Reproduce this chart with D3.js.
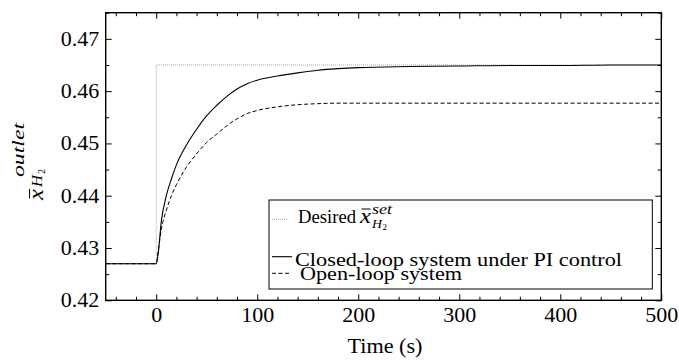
<!DOCTYPE html>
<html>
<head>
<meta charset="utf-8">
<script src="https://cdn.jsdelivr.net/npm/d3@7/dist/d3.min.js"></script>
<style>
  html, body { margin: 0; padding: 0; background: #fff; }
  svg { display: block; }
  svg text { font-family: "Liberation Serif", "DejaVu Serif", "Liberation Sans", Arimo, sans-serif !important; fill: #000; }
</style>
</head>
<body>
<svg id="chart" width="679" height="361"></svg>
<script>
// ---- data ----
const timeS = [-50, 0, 2, 5, 10, 15, 20, 30, 40, 50, 60, 70, 80, 90, 100, 120, 140, 160, 180, 200, 250, 300, 350, 400, 450, 500];
const closedLoop = [0.427, 0.427, 0.4290, 0.4350, 0.4400, 0.4432, 0.4459, 0.4497, 0.4527, 0.4553, 0.4573, 0.4590, 0.4604, 0.4614, 0.4621, 0.4629, 0.4635, 0.4640, 0.4643, 0.4645, 0.4647, 0.4648, 0.4649, 0.4649, 0.4650, 0.4650];
const openLoop = [0.427, 0.427, 0.4295, 0.4335, 0.4372, 0.4400, 0.4421, 0.4455, 0.4480, 0.4502, 0.4518, 0.4534, 0.4547, 0.4557, 0.4563, 0.4570, 0.4574, 0.4576, 0.4577, 0.4577, 0.4577, 0.4577, 0.4577, 0.4577, 0.4577, 0.4577];
const desiredTime = [-50, 0, 0, 500];
const desiredValue = [0.427, 0.427, 0.465, 0.465];
const xMajorTicks = [0, 100, 200, 300, 400, 500];
const xMinorTicks = [-40, -20, 20, 40, 60, 80, 120, 140, 160, 180, 220, 240, 260, 280, 320, 340, 360, 380, 420, 440, 460, 480];
const yMajorTicks = [0.42, 0.43, 0.44, 0.45, 0.46, 0.47];
const yMinorTicks = [0.425, 0.435, 0.445, 0.455, 0.465, 0.475];
const xLabel = "Time (s)";
const legendLabels = ["Desired", "Closed-loop system under PI control", "Open-loop system"];

// ---- layout ----
const svg = d3.select("#chart");
const L = 105.7, R = 661.3, T = 12.7, B = 300.3;
const FS = 20;
const LFS = 19;
const x = d3.scaleLinear().domain([-50, 500]).range([L, R]);
const y = d3.scaleLinear().domain([0.42, 0.475]).range([B, T]);

// curves
const line = d3.line().x(d => x(d[0])).y(d => y(d[1])).curve(d3.curveMonotoneX);
const lineLin = d3.line().x(d => x(d[0])).y(d => y(d[1]));

svg.append("path").datum(desiredTime.map((t, i) => [t, desiredValue[i]]))
  .attr("d", lineLin).attr("fill", "none").attr("stroke", "#a8a8a8")
  .attr("stroke-width", 1).attr("stroke-dasharray", "1,1");
svg.append("path").datum(timeS.map((t, i) => [t, openLoop[i]]))
  .attr("d", line).attr("fill", "none").attr("stroke", "#000")
  .attr("stroke-width", 1).attr("stroke-dasharray", "4,2.5");
svg.append("path").datum(timeS.map((t, i) => [t, closedLoop[i]]))
  .attr("d", line).attr("fill", "none").attr("stroke", "#000")
  .attr("stroke-width", 1.1);

// axes
function styleAxis(g) {
  g.select(".domain").remove();
  g.attr("font-family", null);
  g.selectAll(".tick line").attr("stroke", "#000").attr("stroke-width", 1);
  g.selectAll(".tick text").style("font-size", FS + "px")
    .attr("textLength", function () { return this.textContent.length ? this.textContent.replace(".", "").length * 11 + (this.textContent.includes(".") ? 5.5 : 0) : null; })
    .attr("lengthAdjust", "spacingAndGlyphs");
}
const fmtY = d3.format(".2f");
svg.append("g").attr("transform", `translate(0,${B})`)
  .call(d3.axisBottom(x).tickValues(xMajorTicks).tickSize(-6).tickPadding(8).tickFormat(d3.format("d")))
  .call(styleAxis);
svg.append("g").attr("transform", `translate(0,${B})`)
  .call(d3.axisBottom(x).tickValues(xMinorTicks).tickSize(-3.5).tickFormat(""))
  .call(styleAxis);
svg.append("g").attr("transform", `translate(0,${T})`)
  .call(d3.axisTop(x).tickValues(xMajorTicks).tickSize(-6).tickFormat(""))
  .call(styleAxis);
svg.append("g").attr("transform", `translate(0,${T})`)
  .call(d3.axisTop(x).tickValues(xMinorTicks).tickSize(-3.5).tickFormat(""))
  .call(styleAxis);
svg.append("g").attr("transform", `translate(${L},0)`)
  .call(d3.axisLeft(y).tickValues(yMajorTicks).tickSize(-6).tickPadding(6.4).tickFormat(fmtY))
  .call(styleAxis);
svg.append("g").attr("transform", `translate(${L},0)`)
  .call(d3.axisLeft(y).tickValues(yMinorTicks).tickSize(-3.5).tickFormat(""))
  .call(styleAxis);
svg.append("g").attr("transform", `translate(${R},0)`)
  .call(d3.axisRight(y).tickValues(yMajorTicks).tickSize(-6).tickFormat(""))
  .call(styleAxis);
svg.append("g").attr("transform", `translate(${R},0)`)
  .call(d3.axisRight(y).tickValues(yMinorTicks).tickSize(-3.5).tickFormat(""))
  .call(styleAxis);

// frame
svg.append("rect").attr("x", L).attr("y", T).attr("width", R - L).attr("height", B - T)
  .attr("fill", "none").attr("stroke", "#000").attr("stroke-width", 1.4);

// x label
svg.append("text").attr("x", 385).attr("y", 353).attr("text-anchor", "middle")
  .style("font-size", FS + "px").attr("textLength", 75).attr("lengthAdjust", "spacingAndGlyphs").text(xLabel);

// y label: x̄^{outlet}_{H2}
const yl = svg.append("g").attr("transform", "translate(43,200) rotate(-90)");
yl.append("text").attr("x", 0).attr("y", 0).style("font-size", "20px").style("font-style", "italic")
  .attr("textLength", 11).attr("lengthAdjust", "spacingAndGlyphs").text("x");
yl.append("line").attr("x1", 1.5).attr("x2", 11).attr("y1", -13.5).attr("y2", -13.5).attr("stroke", "#000").attr("stroke-width", 1);
yl.append("text").attr("x", 23).attr("y", -19).style("font-size", "17px").style("font-style", "italic")
  .attr("textLength", 54).attr("lengthAdjust", "spacingAndGlyphs").text("outlet");
yl.append("text").attr("x", 13).attr("y", -1).style("font-size", "14px").style("font-style", "italic")
  .attr("textLength", 12).attr("lengthAdjust", "spacingAndGlyphs").text("H");
yl.append("text").attr("x", 26).attr("y", 1.5).style("font-size", "10px").text("2");

// legend
const lg = svg.append("g");
lg.append("rect").attr("x", 269).attr("y", 200).attr("width", 383.3).attr("height", 89)
  .attr("fill", "#fff").attr("stroke", "#000").attr("stroke-width", 1);
// samples
lg.append("line").attr("x1", 272).attr("x2", 287).attr("y1", 219.3).attr("y2", 219.3)
  .attr("stroke", "#a8a8a8").attr("stroke-width", 1).attr("stroke-dasharray", "1,1");
lg.append("line").attr("x1", 272).attr("x2", 292).attr("y1", 256.7).attr("y2", 256.7)
  .attr("stroke", "#000").attr("stroke-width", 1.1);
lg.append("line").attr("x1", 272).attr("x2", 291).attr("y1", 273.3).attr("y2", 273.3)
  .attr("stroke", "#000").attr("stroke-width", 1).attr("stroke-dasharray", "4,2.5");
// texts
lg.append("text").attr("x", 298).attr("y", 223.3).style("font-size", LFS + "px")
  .attr("textLength", 58).attr("lengthAdjust", "spacingAndGlyphs").text(legendLabels[0]);
lg.append("text").attr("x", 360).attr("y", 223.3).style("font-size", "20px").style("font-style", "italic")
  .attr("textLength", 11).attr("lengthAdjust", "spacingAndGlyphs").text("x");
lg.append("line").attr("x1", 361.5).attr("x2", 370.5).attr("y1", 209).attr("y2", 209).attr("stroke", "#000").attr("stroke-width", 1);
lg.append("text").attr("x", 372).attr("y", 214).style("font-size", "14px").style("font-style", "italic")
  .attr("textLength", 20).attr("lengthAdjust", "spacingAndGlyphs").text("set");
lg.append("text").attr("x", 372).attr("y", 228).style("font-size", "12px").style("font-style", "italic")
  .attr("textLength", 10).attr("lengthAdjust", "spacingAndGlyphs").text("H");
lg.append("text").attr("x", 382.5).attr("y", 230).style("font-size", "9px").text("2");
lg.append("text").attr("x", 295).attr("y", 265.5).style("font-size", LFS + "px")
  .attr("textLength", 327).attr("lengthAdjust", "spacingAndGlyphs").text(legendLabels[1]);
lg.append("text").attr("x", 300).attr("y", 280).style("font-size", LFS + "px")
  .attr("textLength", 162).attr("lengthAdjust", "spacingAndGlyphs").text(legendLabels[2]);
</script>
</body>
</html>
